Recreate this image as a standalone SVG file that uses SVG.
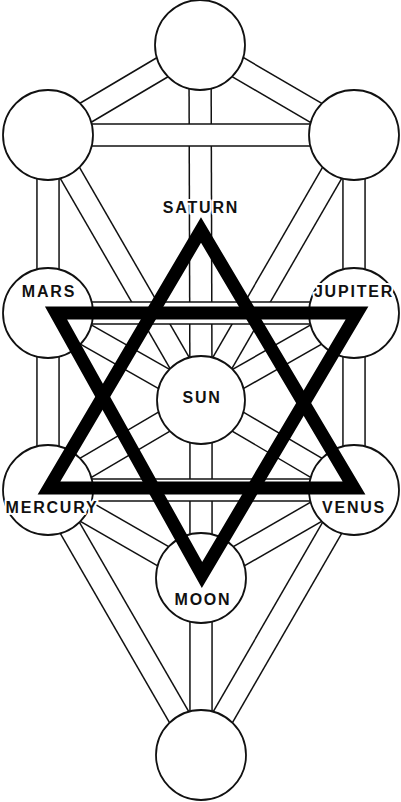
<svg xmlns="http://www.w3.org/2000/svg" width="401" height="802" viewBox="0 0 401 802">
<style>
.cb{stroke:#111;stroke-width:23.6;stroke-linecap:butt;fill:none}
.cw{stroke:#fff;stroke-width:20.6;stroke-linecap:butt;fill:none}
.node circle{fill:#fff;stroke:#111;stroke-width:1.8}
.star{fill:none;stroke:#000;stroke-width:13;stroke-linejoin:miter;stroke-miterlimit:10}
.lbl{font-family:"Liberation Sans",Arial,sans-serif;font-size:16px;font-weight:bold;letter-spacing:1.8px;fill:#111;text-anchor:middle;stroke:#fff;stroke-width:4;paint-order:stroke fill;stroke-linejoin:round}
</style>
<rect width="401" height="802" fill="#fff"/>
<g id="connectors">
  <g id="p-kether-chokmah"><line class="cb" x1="200" y1="45" x2="354" y2="135"/><line class="cw" x1="200" y1="45" x2="354" y2="135"/></g>
  <g id="p-kether-binah"><line class="cb" x1="200" y1="45" x2="48" y2="135"/><line class="cw" x1="200" y1="45" x2="48" y2="135"/></g>
  <g id="p-kether-sun"><line class="cb" x1="200" y1="45" x2="201" y2="400"/><line class="cw" x1="200" y1="45" x2="201" y2="400"/></g>
  <g id="p-chokmah-sun"><line class="cb" x1="354" y1="135" x2="201" y2="400"/><line class="cw" x1="354" y1="135" x2="201" y2="400"/></g>
  <g id="p-binah-sun"><line class="cb" x1="48" y1="135" x2="201" y2="400"/><line class="cw" x1="48" y1="135" x2="201" y2="400"/></g>
  <g id="p-chokmah-jupiter"><line class="cb" x1="354" y1="135" x2="354" y2="313"/><line class="cw" x1="354" y1="135" x2="354" y2="313"/></g>
  <g id="p-binah-mars"><line class="cb" x1="48" y1="135" x2="48" y2="313"/><line class="cw" x1="48" y1="135" x2="48" y2="313"/></g>
  <g id="p-jupiter-sun"><line class="cb" x1="354" y1="313" x2="201" y2="400"/><line class="cw" x1="354" y1="313" x2="201" y2="400"/></g>
  <g id="p-mars-sun"><line class="cb" x1="48" y1="313" x2="201" y2="400"/><line class="cw" x1="48" y1="313" x2="201" y2="400"/></g>
  <g id="p-jupiter-venus"><line class="cb" x1="354" y1="313" x2="354" y2="490"/><line class="cw" x1="354" y1="313" x2="354" y2="490"/></g>
  <g id="p-mars-mercury"><line class="cb" x1="48" y1="313" x2="48" y2="490"/><line class="cw" x1="48" y1="313" x2="48" y2="490"/></g>
  <g id="p-sun-venus"><line class="cb" x1="201" y1="400" x2="354" y2="490"/><line class="cw" x1="201" y1="400" x2="354" y2="490"/></g>
  <g id="p-sun-mercury"><line class="cb" x1="201" y1="400" x2="48" y2="490"/><line class="cw" x1="201" y1="400" x2="48" y2="490"/></g>
  <g id="p-sun-moon"><line class="cb" x1="201" y1="400" x2="201" y2="578"/><line class="cw" x1="201" y1="400" x2="201" y2="578"/></g>
  <g id="p-venus-moon"><line class="cb" x1="354" y1="490" x2="201" y2="578"/><line class="cw" x1="354" y1="490" x2="201" y2="578"/></g>
  <g id="p-mercury-moon"><line class="cb" x1="48" y1="490" x2="201" y2="578"/><line class="cw" x1="48" y1="490" x2="201" y2="578"/></g>
  <g id="p-venus-malkuth"><line class="cb" x1="354" y1="490" x2="201" y2="755"/><line class="cw" x1="354" y1="490" x2="201" y2="755"/></g>
  <g id="p-mercury-malkuth"><line class="cb" x1="48" y1="490" x2="201" y2="755"/><line class="cw" x1="48" y1="490" x2="201" y2="755"/></g>
  <g id="p-moon-malkuth"><line class="cb" x1="201" y1="578" x2="201" y2="755"/><line class="cw" x1="201" y1="578" x2="201" y2="755"/></g>
  <g id="p-chokmah-binah"><line class="cb" x1="48" y1="135" x2="354" y2="135"/><line class="cw" x1="48" y1="135" x2="354" y2="135"/></g>
  <g id="p-mars-jupiter"><line class="cb" x1="48" y1="313" x2="354" y2="313"/><line class="cw" x1="48" y1="313" x2="354" y2="313"/></g>
  <g id="p-mercury-venus"><line class="cb" x1="48" y1="490" x2="354" y2="490"/><line class="cw" x1="48" y1="490" x2="354" y2="490"/></g>
</g>
<g id="kether" class="node"><circle cx="200" cy="45" r="45"/></g>
<g id="binah" class="node"><circle cx="48" cy="135" r="45"/></g>
<g id="chokmah" class="node"><circle cx="354" cy="135" r="45"/></g>
<g id="mars" class="node"><circle cx="48" cy="313" r="45"/></g>
<g id="jupiter" class="node"><circle cx="354" cy="313" r="45"/></g>
<g id="sun" class="node"><circle cx="201" cy="400" r="44"/></g>
<g id="mercury" class="node"><circle cx="48" cy="490" r="45"/></g>
<g id="venus" class="node"><circle cx="354" cy="490" r="45"/></g>
<g id="moon" class="node"><circle cx="201" cy="578" r="45"/></g>
<g id="malkuth" class="node"><circle cx="201" cy="755" r="45"/></g>
<g id="hexagram">
  <polygon class="star" points="49,488 354,488 201,230"/>
  <polygon class="star" points="56,313 357,313 202,575"/>
</g>
<g id="labels">
  <text class="lbl" x="201" y="213">SATURN</text>
  <text class="lbl" x="49" y="297">MARS</text>
  <text class="lbl" x="354" y="297">JUPITER</text>
  <text class="lbl" x="202" y="403">SUN</text>
  <text class="lbl" x="52" y="513">MERCURY</text>
  <text class="lbl" x="354" y="513">VENUS</text>
  <text class="lbl" x="203" y="605">MOON</text>
</g>
</svg>
